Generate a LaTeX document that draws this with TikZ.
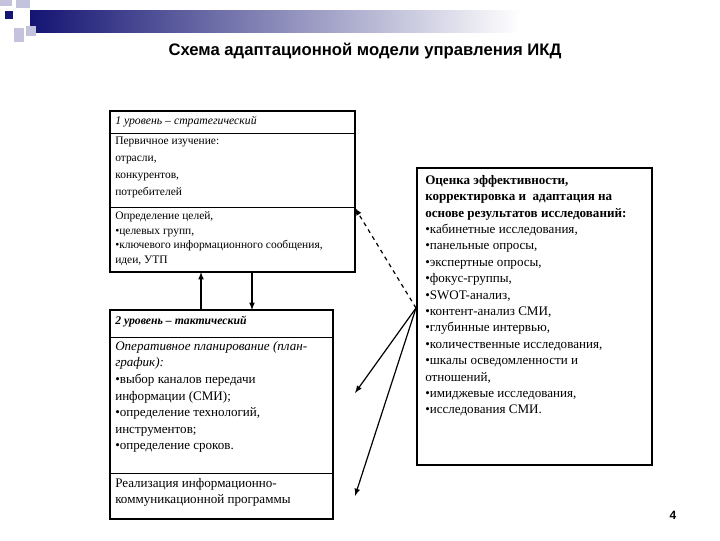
\documentclass[tikz,border=0pt]{standalone}
\usepackage{fontspec}
\setmainfont{Liberation Serif}
\newfontfamily\arial{Liberation Sans}
\definecolor{navy}{RGB}{20,20,115}
\definecolor{lav}{RGB}{195,195,222}
\begin{document}
\begin{tikzpicture}[x=0.75pt,y=-0.75pt,
  bx/.style={draw,line width=0.8pt},
  txt/.style={anchor=north west,inner sep=0pt,align=left,font=\fontsize{8.6}{12.6}\selectfont},
  txtb/.style={anchor=north west,inner sep=0pt,align=left,font=\fontsize{9.8}{12.4}\selectfont},
  arr/.style={-latex,line width=0.9pt}]
\useasboundingbox (0,0) rectangle (720,540);
\fill[white] (0,0) rectangle (720,540);
% header decoration
\shade[left color=navy,right color=white] (30,10) rectangle (520,32);
\fill[lav] (0,0) rectangle (12,6);
\fill[lav] (16,0) rectangle (30,8);
\fill[navy] (5,11) rectangle (13,19);
\fill[lav] (14,28) rectangle (24,42);
\fill[lav] (26,26) rectangle (36,36);
\node[font=\arial\bfseries\fontsize{12.5}{14}\selectfont] (title) at (365,51) {Схема адаптационной модели управления ИКД};
% box 1
\draw[bx] (110,111) coordinate (b1nw) rectangle (355,272) coordinate (b1se);
\draw (110,133) -- (355,133);
\draw (110,207) -- (355,207);
\node[txt,font=\itshape\fontsize{8.8}{12}\selectfont] (t1) at (115,116) {1 уровень – стратегический};
\node[txt] (t2) at (115,137) {Первичное изучение:\\отрасли,\\конкурентов,\\потребителей};
\node[txt,font=\fontsize{8.6}{11.2}\selectfont] (t3) at (115,211) {Определение целей,\\•целевых групп,\\•ключевого информационного сообщения,\\идеи, УТП};
% box 2
\draw[bx] (110,310) coordinate (b2nw) rectangle (333,519) coordinate (b2se);
\draw (110,337) -- (333,337);
\draw (110,473) -- (333,473);
\node[txt,font=\bfseries\itshape\fontsize{8.8}{12}\selectfont] (t4) at (115,316) {2 уровень – тактический};
\node[txtb,font=\itshape\fontsize{9.8}{12.4}\selectfont] (t5) at (115,341) {Оперативное планирование (план-\\график):};
\node[txtb] (t6) at (115,374) {•выбор каналов передачи\\информации (СМИ);\\•определение технологий,\\инструментов;\\•определение сроков.};
\node[txtb] (t7) at (115,478) {Реализация информационно-\\коммуникационной программы};
% box 3
\draw[bx] (417,168) coordinate (b3nw) rectangle (652,465) coordinate (b3se);
\node[txtb,font=\fontsize{9.8}{12.3}\selectfont] (t8) at (425,175) {\textbf{Оценка эффективности,}\\\textbf{корректировка и \ адаптация на}\\\textbf{основе результатов исследований:}\\•кабинетные исследования,\\•панельные опросы,\\•экспертные опросы,\\•фокус-группы,\\•SWOT-анализ,\\•контент-анализ СМИ,\\•глубинные интервью,\\•количественные исследования,\\•шкалы осведомленности и\\отношений,\\•имиджевые исследования,\\•исследования СМИ.};
\node[font=\arial\bfseries\fontsize{9}{10}\selectfont] (pg) at (673,515) {4};
% connectors
\coordinate (o) at (416,308);
\coordinate (e1) at (355,208);
\coordinate (e2) at (355,393);
\coordinate (e3) at (355,496);
\coordinate (u1) at (201,310);
\coordinate (u2) at (201,272);
\coordinate (d1) at (252,272);
\coordinate (d2) at (252,310);
\draw[arr] (u1) -- (u2);
\draw[arr] (d1) -- (d2);
\draw[arr,dashed] (o) -- (e1);
\draw[arr] (o) -- (e2);
\draw[arr] (o) -- (e3);
\end{tikzpicture}
\end{document}
